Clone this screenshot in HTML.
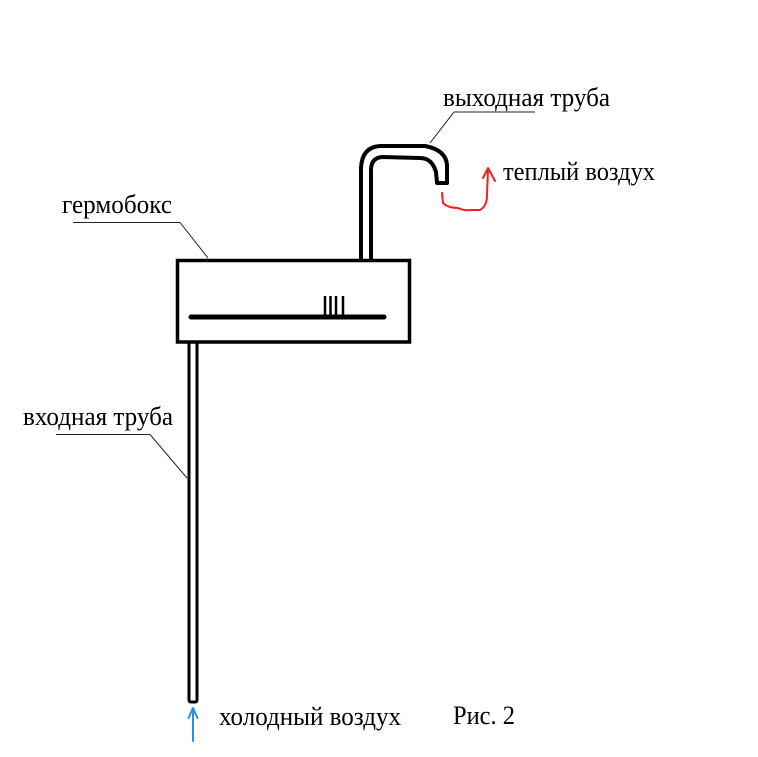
<!DOCTYPE html>
<html><head><meta charset="utf-8"><style>
html,body{margin:0;padding:0;background:#fff;}
svg{display:block;}
text{font-family:"Liberation Serif",serif;font-size:26px;fill:#000;}
</style></head><body>
<svg width="758" height="757" viewBox="0 0 758 757" xmlns="http://www.w3.org/2000/svg">
<rect width="758" height="757" fill="#fff"/>
<!-- box -->
<rect x="177.5" y="260.5" width="232" height="81.5" fill="none" stroke="#000" stroke-width="3.5"/>
<!-- slot -->
<line x1="191" y1="317" x2="384" y2="317" stroke="#000" stroke-width="5" stroke-linecap="round"/>
<g stroke="#000" stroke-width="2.5">
<line x1="325" y1="296" x2="325" y2="315"/>
<line x1="330.5" y1="296" x2="330.5" y2="315"/>
<line x1="336" y1="296" x2="336" y2="315"/>
<line x1="343" y1="296" x2="343" y2="315"/>
</g>
<!-- output pipe -->
<path d="M361,260 L361,168 Q362,147 380,146 L425,146 Q446,150 447,165 L447,183 L437,183 L436,172 Q432,158 420,158 L382,157 Q371,158 371,170 L371,260" fill="none" stroke="#000" stroke-width="4" stroke-linejoin="round"/>
<!-- input pipe -->
<path d="M189,343 L189,700 Q189,702 191,702 L195,702 Q197,702 197,700 L197,343" fill="none" stroke="#000" stroke-width="3"/>
<!-- leaders -->
<g stroke="#222" stroke-width="1" fill="none">
<polyline points="535,112 454,112 430,143"/>
<polyline points="73,222.5 180,222.5 208,258"/>
<polyline points="56,434.5 150,434.5 187,478"/>
</g>
<!-- red arrow -->
<g stroke="#f02020" stroke-width="2" fill="none" stroke-linecap="round" stroke-linejoin="round">
<path d="M442,193 L443,203 Q448,208 458,208 Q464,211 472,210 L480,210 Q487,206 487,195 L488,169"/>
<path d="M483,178 L488,168 L495,181"/>
</g>
<!-- blue arrow -->
<g stroke="#2b8ce0" stroke-width="2" fill="none" stroke-linecap="round" stroke-linejoin="round">
<line x1="193" y1="741" x2="193" y2="709"/>
<path d="M188.5,718 L193,708 L197.5,718"/>
</g>
<!-- labels -->
<text x="443" y="106" textLength="167" lengthAdjust="spacingAndGlyphs">выходная труба</text>
<text x="503" y="180" textLength="152" lengthAdjust="spacingAndGlyphs">теплый воздух</text>
<text x="62" y="213" textLength="110" lengthAdjust="spacingAndGlyphs">гермобокс</text>
<text x="23" y="425" textLength="150" lengthAdjust="spacingAndGlyphs">входная труба</text>
<text x="219" y="725" textLength="182" lengthAdjust="spacingAndGlyphs">холодный воздух</text>
<text x="453" y="724" textLength="62" lengthAdjust="spacingAndGlyphs">Рис. 2</text>
</svg>
</body></html>
